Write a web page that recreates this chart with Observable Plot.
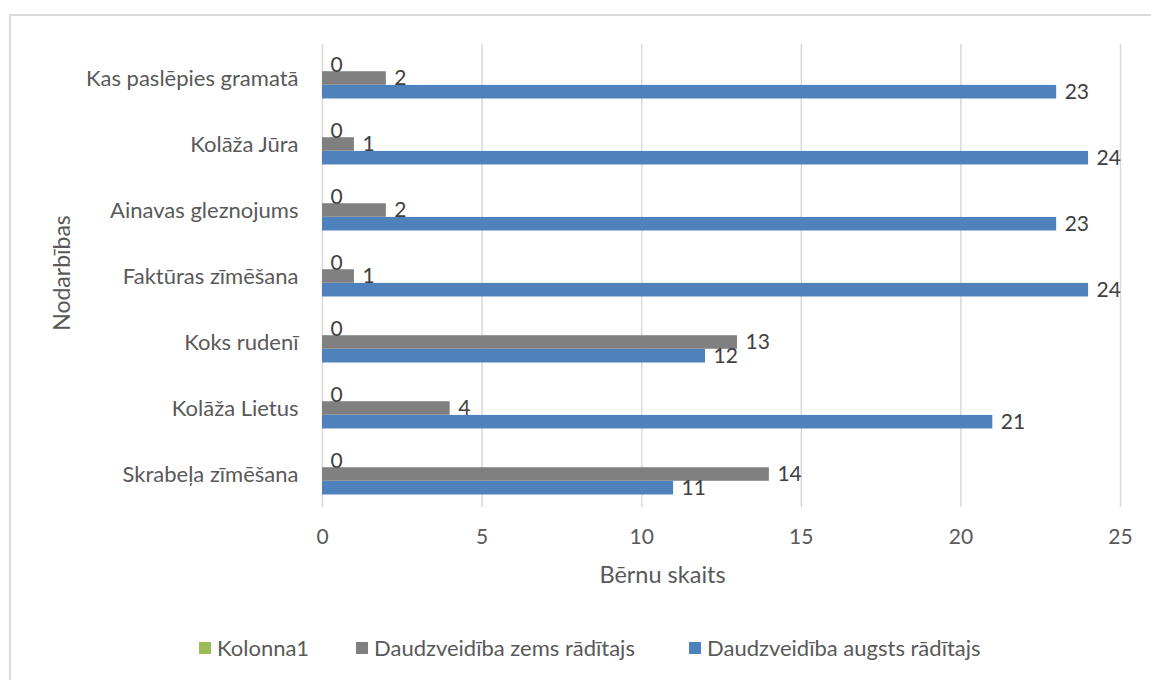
<!DOCTYPE html>
<html><head><meta charset="utf-8">
<script src="https://cdn.jsdelivr.net/npm/d3@7"></script>
<script src="https://cdn.jsdelivr.net/npm/@observablehq/plot@0.6"></script>
<style>
body{margin:0;background:#fff;font-family:Lato,"Open Sans",sans-serif;overflow:hidden;}
#frame{position:absolute;left:9px;top:14px;width:1200px;height:720px;border:2px solid #D9D9D9;box-sizing:border-box;}
#chart{position:absolute;left:0;top:0;}
#legend{position:absolute;top:634px;left:0;width:1151px;height:30px;font-size:22px;color:#595959;}
.item{position:absolute;top:0;display:flex;align-items:center;gap:6px;white-space:nowrap;}
.sw{width:12px;height:12px;display:inline-block;}
</style></head>
<body>
<div id="frame"></div>
<div id="chart"></div>
<div id="legend"></div>
<script>
const categories = ["Kas paslēpies gramatā","Kolāža Jūra","Ainavas gleznojums","Faktūras zīmēšana","Koks rudenī","Kolāža Lietus","Skrabeļa zīmēšana"];
const kolonna1 = [0,0,0,0,0,0,0];
const zems = [2,1,2,1,13,4,14];
const augsts = [23,24,23,24,12,21,11];
const seriesNames = ["Kolonna1","Daudzveidība zems rādītajs","Daudzveidība augsts rādītajs"];
const seriesColors = ["#9BBB59","#808080","#4F81BD"];
const xTicks = [0,5,10,15,20,25];
const xLabel = "Bērnu skaits";
const yLabel = "Nodarbības";

const seriesValues = [kolonna1, zems, augsts];
const rows = [];
seriesValues.forEach((vals, k) => vals.forEach((v, i) => rows.push({category: categories[i], series: seriesNames[k], value: v, k})));

const W = 1151, H = 620, mT = 44, mB = H - 507, mL = 322, mR = W - 1120;
const bw = (H - mT - mB) / categories.length;
const bar = 13.7;
const gTop = (bw - 3 * bar) / 2;

const marks = [
  Plot.gridX(xTicks, {stroke: "#D9D9D9", strokeOpacity: 1, strokeWidth: 1.5})
];
seriesNames.forEach((name, k) => {
  const d = rows.filter(r => r.k === k);
  marks.push(Plot.barX(d, {x: "value", y: "category", fill: seriesColors[k],
    insetTop: gTop + k * bar, insetBottom: bw - gTop - (k + 1) * bar}));
});
seriesNames.forEach((name, k) => {
  const d = rows.filter(r => r.k === k);
  marks.push(Plot.text(d, {x: "value", y: "category", text: r => String(r.value),
    dx: 8, dy: (k - 1) * bar, textAnchor: "start", fill: "#404040", fontSize: 21}));
});
marks.push(Plot.axisY({tickSize: 0, tickPadding: 24, fontSize: 22, label: null}));
marks.push(Plot.axisX(xTicks, {tickSize: 0, tickPadding: 22, fontSize: 21, label: null}));
marks.push(Plot.text([yLabel], {frameAnchor: "left", dx: -260, dy: -3, rotate: -90, fontSize: 23, fill: "#595959", textAnchor: "middle"}));
marks.push(Plot.text([xLabel], {frameAnchor: "bottom", dx: -59, dy: 75, fontSize: 23.5, fill: "#595959", textAnchor: "middle"}));

const chart = Plot.plot({
  width: W, height: H,
  marginTop: mT, marginBottom: mB, marginLeft: mL, marginRight: mR,
  style: {fontFamily: "Lato, 'Open Sans', sans-serif", color: "#595959", background: "transparent", overflow: "visible"},
  x: {domain: [0, 25]},
  y: {domain: categories, padding: 0},
  marks
});
document.getElementById("chart").appendChild(chart);

const legendLeft = [199, 356, 689];
const lg = document.getElementById("legend");
seriesNames.forEach((n, k) => {
  const it = document.createElement("div");
  it.className = "item";
  it.style.left = legendLeft[k] + "px";
  it.innerHTML = `<span class="sw" style="background:${seriesColors[k]}"></span><span>${n}</span>`;
  lg.appendChild(it);
});
</script>
</body></html>
